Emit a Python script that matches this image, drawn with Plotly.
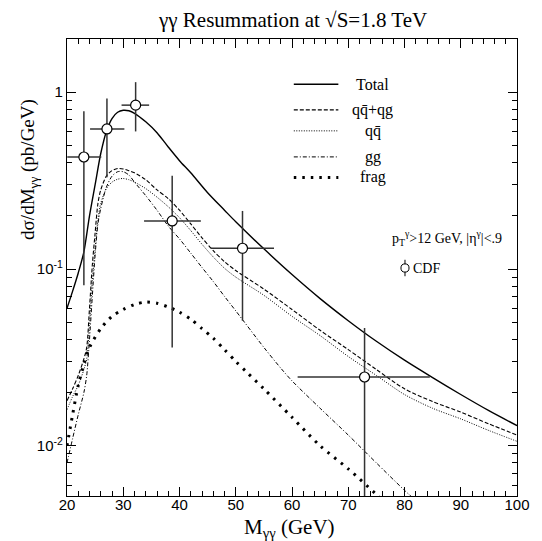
import plotly.graph_objects as go

# ---------------- data ----------------
m_total = [20, 21, 22, 23, 24, 25, 26, 27, 28, 29, 30, 31, 32, 34, 36, 38, 40, 42, 45, 48, 50,
           55, 60, 65, 70, 75, 80, 85, 90, 95, 100]
total = [0.060, 0.075, 0.095, 0.125, 0.20, 0.30, 0.45, 0.60, 0.71, 0.77, 0.79, 0.785, 0.76,
         0.68, 0.59, 0.49, 0.41, 0.35, 0.27, 0.215, 0.185, 0.13, 0.093, 0.068, 0.051, 0.039,
         0.0305, 0.0243, 0.0195, 0.0158, 0.0130]

m_sub = [20, 21, 22, 23, 23.5, 24, 24.5, 25, 25.5, 26, 27, 28, 29, 30, 31, 32, 34, 36, 38, 40,
         42, 44, 46, 48, 50, 55, 60, 65, 70, 75, 80, 85, 90, 95, 100]
qq_qg = [0.018, 0.021, 0.025, 0.031, 0.036, 0.060, 0.105, 0.16, 0.235, 0.28, 0.335, 0.36,
         0.37, 0.368, 0.36, 0.35, 0.32, 0.28, 0.25, 0.215, 0.18, 0.15, 0.127, 0.11, 0.098,
         0.077, 0.059, 0.045, 0.035, 0.027, 0.021, 0.0178, 0.0155, 0.0133, 0.0115]
qqbar = [0.016, 0.019, 0.022, 0.027, 0.031, 0.048, 0.085, 0.13, 0.19, 0.235, 0.285, 0.31,
         0.322, 0.325, 0.32, 0.31, 0.285, 0.255, 0.225, 0.195, 0.165, 0.138, 0.117, 0.101,
         0.090, 0.071, 0.054, 0.042, 0.032, 0.025, 0.0195, 0.0163, 0.0142, 0.0122, 0.0106]

m_gg = [20, 21, 22, 23, 23.5, 24, 24.5, 25, 25.5, 26, 27, 28, 29, 30, 31, 32, 34, 36, 38, 40,
        42, 44, 46, 48, 50, 55, 58, 60, 65, 70, 75, 80, 84]
gg = [0.008, 0.011, 0.015, 0.020, 0.025, 0.040, 0.070, 0.12, 0.18, 0.22, 0.29, 0.335, 0.355,
      0.355, 0.34, 0.31, 0.26, 0.215, 0.175, 0.148, 0.123, 0.102, 0.085, 0.070, 0.058, 0.036,
      0.0275, 0.0233, 0.0163, 0.0115, 0.0080, 0.0056, 0.0043]

m_frag = [20, 21, 22, 23, 24, 26, 28, 30, 32, 34, 36, 38, 40, 42, 44, 46, 48, 50, 52, 55, 60,
          65, 70, 75, 80]
frag = [0.010, 0.015, 0.022, 0.029, 0.036, 0.046, 0.054, 0.059, 0.063, 0.065, 0.064, 0.061,
        0.057, 0.052, 0.046, 0.0406, 0.035, 0.030, 0.026, 0.021, 0.0145, 0.0100, 0.0074,
        0.0053, 0.0037]

cdf_x = [23.0, 27.1, 32.2, 38.7, 51.2, 72.9]
cdf_y = [0.43, 0.62, 0.845, 0.187, 0.131, 0.0245]
cdf_xlo = [20.05, 24.1, 29.7, 33.7, 45.6, 61.0]
cdf_xhi = [26.1, 30.2, 34.6, 43.8, 56.8, 84.5]
cdf_ylo = [0.081, 0.33, 0.60, 0.036, 0.051, 0.001]
cdf_yhi = [0.78, 0.92, 1.14, 0.337, 0.213, 0.0464]

y_major = [0.01, 0.1, 1]
y_major_text = ["10<sup>-2</sup>", "10<sup>-1</sup>", "1"]
y_minor = [0.006, 0.007, 0.008, 0.009] + [k / 100 for k in range(2, 10)] + \
          [k / 10 for k in range(2, 10)] + [2]

legend_names = ["Total", "qq\u0304+qg", "qq\u0304", "gg", "frag"]

SERIF = "Liberation Serif, Times New Roman, serif"
SANS = "Liberation Sans, Arial, sans-serif"

styles = [
    dict(width=1.4, dash="solid"),
    dict(width=1.1, dash="4px,2px"),
    dict(width=1.0, dash="1px,1.5px"),
    dict(width=1.0, dash="4px,2px,1px,2px"),
    dict(width=3.0, dash="2.5px,6px"),
]

fig = go.Figure()
series = [(m_total, total), (m_sub, qq_qg), (m_sub, qqbar), (m_gg, gg), (m_frag, frag)]
for (xs, ys), st, nm in zip(series, styles, legend_names):
    fig.add_trace(go.Scatter(x=xs, y=ys, mode="lines", name=nm, showlegend=False,
                             line=dict(color="black", width=st["width"], dash=st["dash"],
                                       shape="spline", smoothing=0.8)))

fig.add_trace(go.Scatter(
    x=cdf_x, y=cdf_y, mode="markers", showlegend=False, name="CDF",
    marker=dict(symbol="circle", size=10, color="white", line=dict(color="black", width=1.2)),
    error_x=dict(type="data", symmetric=False,
                 array=[h - x for h, x in zip(cdf_xhi, cdf_x)],
                 arrayminus=[x - l for l, x in zip(cdf_xlo, cdf_x)],
                 color="#333333", thickness=1.5, width=0),
    error_y=dict(type="data", symmetric=False,
                 array=[h - y for h, y in zip(cdf_yhi, cdf_y)],
                 arrayminus=[y - l for l, y in zip(cdf_ylo, cdf_y)],
                 color="#333333", thickness=1.5, width=0),
))

# legend drawn inside plot area
leg_y = [0.901, 0.845, 0.799, 0.742, 0.697]
shapes = []
annotations = []
for nm, st, yy in zip(legend_names, styles, leg_y):
    shapes.append(dict(type="line", xref="paper", yref="paper", x0=0.504, x1=0.603, y0=yy, y1=yy,
                       line=dict(color="black", width=st["width"], dash=st["dash"])))
    annotations.append(dict(xref="paper", yref="paper", x=0.679, y=yy, text=nm, showarrow=False,
                            xanchor="center", yanchor="middle",
                            font=dict(family=SERIF, size=16, color="black")))

annotations.append(dict(xref="paper", yref="paper", x=0.845, y=0.565, xanchor="center",
                        yanchor="middle",
                        text="p<sub>T</sub><sup>\u03b3</sup>>12 GeV, |\u03b7<sup>\u03b3</sup>|<.9",
                        showarrow=False, font=dict(family=SERIF, size=14, color="black")))
# CDF key symbol
cx, cy = (411 - 67) / 458, (496 - 268) / 457
shapes.append(dict(type="line", xref="paper", yref="paper", x0=cx, x1=cx, y0=cy - 0.018,
                   y1=cy + 0.018, line=dict(color="black", width=1)))
shapes.append(dict(type="circle", xref="paper", yref="paper", x0=cx - 0.009, x1=cx + 0.009,
                   y0=cy - 0.009, y1=cy + 0.009, fillcolor="white",
                   line=dict(color="black", width=1)))
annotations.append(dict(xref="paper", yref="paper", x=cx + 0.013, y=cy, text="CDF",
                        showarrow=False, xanchor="left", yanchor="middle",
                        font=dict(family=SERIF, size=14, color="black")))

annotations.append(dict(xref="paper", yref="paper", x=0.5, y=1.0, yshift=19,
                        text="\u03b3\u03b3 Resummation at \u221aS=1.8 TeV", showarrow=False,
                        xanchor="center", yanchor="middle",
                        font=dict(family=SERIF, size=21, color="black")))
annotations.append(dict(xref="paper", yref="paper", x=-0.083, y=0.715, textangle=-90,
                        text="d\u03c3/dM<sub>\u03b3\u03b3</sub> (pb/GeV)", showarrow=False,
                        xanchor="center", yanchor="middle",
                        font=dict(family=SERIF, size=19, color="black")))
annotations.append(dict(xref="paper", yref="paper", x=0.495, y=-0.069,
                        text="M<sub>\u03b3\u03b3</sub> (GeV)", showarrow=False,
                        xanchor="center", yanchor="middle",
                        font=dict(family=SERIF, size=21, color="black")))

# page body has an 8px margin: figure is shrunk by 8px so the plot lands where the reference has it
fig.update_layout(
    width=534, height=533,
    margin=dict(l=59, r=17, t=31, b=45),
    paper_bgcolor="white", plot_bgcolor="white",
    shapes=shapes, annotations=annotations,
    xaxis=dict(range=[20, 100], dtick=10, tick0=20, ticks="inside", ticklen=9, tickwidth=1,
               tickcolor="black", showline=True, linecolor="black", linewidth=1.3, mirror="ticks",
               showgrid=False, zeroline=False, ticklabelstandoff=-5,
               tickfont=dict(family=SANS, size=15, color="black"),
               minor=dict(dtick=2, ticks="inside", ticklen=5, tickcolor="black", showgrid=False)),
    yaxis=dict(type="log", range=[-2.284, 0.301], tickvals=y_major, ticktext=y_major_text,
               ticks="inside", ticklen=9, tickwidth=1, tickcolor="black", showline=True,
               linecolor="black", linewidth=1.3, mirror="ticks", showgrid=False, zeroline=False,
               tickfont=dict(family=SANS, size=15, color="black"),
               minor=dict(tickvals=y_minor, ticks="inside", ticklen=5, tickcolor="black",
                          showgrid=False)),
)

fig.write_html("out.html")
